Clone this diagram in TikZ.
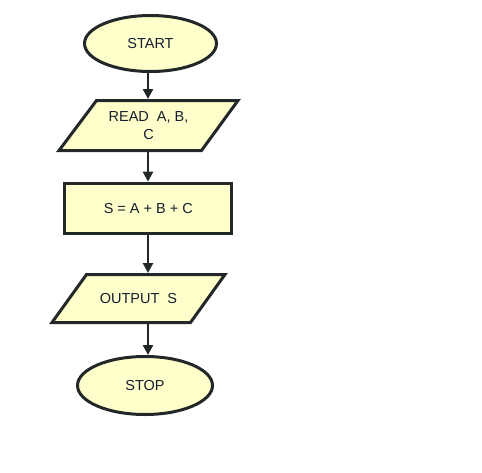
\documentclass[tikz,border=0pt]{standalone}
\usepackage{fontspec}
\setmainfont{Liberation Sans}
\usetikzlibrary{shapes.geometric,arrows.meta}
\definecolor{boxfill}{RGB}{255,255,204}
\definecolor{boxline}{RGB}{34,40,40}
\definecolor{txt}{RGB}{22,30,48}
\tikzset{
  shp/.style={draw=boxline, fill=boxfill, line width=3pt, line join=miter},
  lbl/.style={text=txt, font=\fontsize{14.5pt}{18pt}\selectfont, inner sep=0pt, align=center},
  term/.style={shp, lbl, ellipse, minimum width=132pt, minimum height=56pt},
  procbox/.style={shp, lbl, rectangle, minimum width=167pt, minimum height=50.5pt},
  ioarea/.style={lbl, rectangle, draw=none, outer sep=0pt},
  conn/.style={draw=boxline, line width=2.6pt, -{Triangle[length=10pt,width=10pt]}}
}
\begin{document}
\begin{tikzpicture}[x=1pt,y=1pt]
\useasboundingbox (0,0) rectangle (482,-472);
\fill[white] (0,0) rectangle (482,-472);
\coordinate (axis) at (148,0);
% START
\node[term] (start) at (150.5,-43.5) {START};
% READ parallelogram
\draw[shp] (96.5,-100.5) -- (238,-100.5) -- (201.5,-150.5) -- (59,-150.5) -- cycle;
\node[ioarea, minimum width=100pt, minimum height=53pt] (read) at (148.5,-125.5) {READ\ \ A, B,\\C};
% process
\node[procbox] (proc) at (148.3,-208.4) {S = A + B + C};
% OUTPUT parallelogram
\draw[shp] (86.5,-274.5) -- (225,-274.5) -- (190.5,-322.5) -- (52,-322.5) -- cycle;
\node[ioarea, minimum width=100pt, minimum height=51pt] (out) at (138.5,-298.5) {OUTPUT\ \ S};
% STOP
\node[term, minimum width=135pt, minimum height=58pt] (stop) at (145,-385.5) {STOP};
% connectors
\draw[conn] (axis |- start.south) -- (axis |- read.north);
\draw[conn] (axis |- read.south) -- (axis |- proc.north);
\draw[conn] (axis |- proc.south) -- (axis |- out.north);
\draw[conn] (axis |- out.south) -- (axis |- stop.north);
\end{tikzpicture}
\end{document}
